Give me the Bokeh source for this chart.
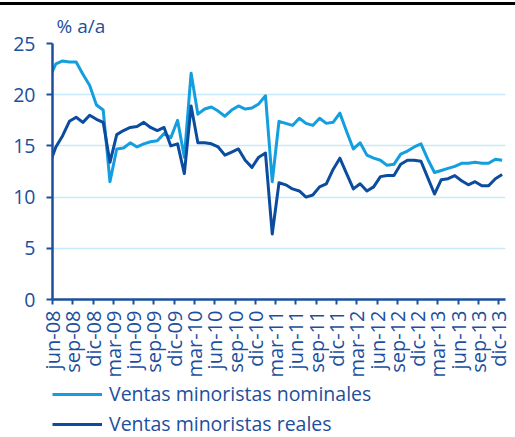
from math import pi
from bokeh.plotting import figure
from bokeh.layouts import column
from bokeh.models import (ColumnDataSource, FixedTicker, Legend, LegendItem, Title,
                          Range1d, Div)
from bokeh.embed import file_html
from bokeh.resources import INLINE

# Monthly data, may-08 .. dic-13 (first point lies just left of the axis)
months = ["may-08"] + [f"{m}-{y:02d}" for y in range(8, 14)
                        for m in ["ene", "feb", "mar", "abr", "may", "jun", "jul", "ago", "sep", "oct", "nov", "dic"]
                        if not (y == 8 and m in ["ene", "feb", "mar", "abr", "may"])]

nominales = [21.6,
             23.0, 23.3, 23.2, 23.2, 22.0, 20.9, 19.0, 18.5,
             11.5, 14.7, 14.8, 15.3, 14.9, 15.2, 15.4, 15.5, 16.2,
             15.8, 17.5, 13.9, 22.1,
             18.1, 18.6, 18.8, 18.4, 17.9, 18.5, 18.9, 18.6, 18.7, 19.1, 19.9,
             11.5, 17.4, 17.2, 17.0, 17.7, 17.2, 17.0, 17.7, 17.2, 17.3, 18.2,
             16.4, 14.7, 15.3, 14.1, 13.8, 13.6, 13.1, 13.2,
             14.2, 14.5, 14.9, 15.2, 13.7, 12.4, 12.6, 12.8,
             13.0, 13.3, 13.3, 13.4, 13.3, 13.3, 13.7, 13.6]

reales = [13.1,
          14.9, 16.0, 17.4, 17.8, 17.3, 18.0, 17.6, 17.3,
          13.4, 16.1, 16.5, 16.8, 16.9, 17.3, 16.8, 16.5, 16.8,
          15.0, 15.2, 12.3, 18.9,
          15.3, 15.3, 15.2, 14.9, 14.1, 14.4, 14.7, 13.6, 12.9, 13.9, 14.3,
          6.4, 11.4, 11.2, 10.8, 10.6, 10.0, 10.2, 11.0, 11.3, 12.7, 13.8,
          12.3, 10.8, 11.3, 10.6, 11.0, 12.0, 12.1, 12.1,
          13.2, 13.6, 13.6, 13.5, 11.9, 10.3, 11.7, 11.8,
          12.1, 11.6, 11.2, 11.5, 11.1, 11.1, 11.8, 12.2]

tick_labels = ["jun-08", "sep-08", "dic-08", "mar-09", "jun-09", "sep-09", "dic-09",
               "mar-10", "jun-10", "sep-10", "dic-10", "mar-11", "jun-11", "sep-11",
               "dic-11", "mar-12", "jun-12", "sep-12", "dic-12", "mar-13", "jun-13",
               "sep-13", "dic-13"]
y_ticks = [0, 5, 10, 15, 20, 25]
series_names = ["Ventas minoristas nominales", "Ventas minoristas reales"]

DARK = "#0b4c9f"
LIGHT = "#139fdf"
TXT = "#1c4f9d"
GRID = "#c8e9f8"
FONT = "Open Sans"

# month position: jun-08 tick at 0, points centred in their month
xs = [i - 0.5 for i in range(len(months))]
src = ColumnDataSource(dict(x=xs, nom=nominales, real=reales, month=months))

p = figure(width=515, height=375, output_backend="svg", toolbar_location=None,
           x_range=Range1d(0, 67), y_range=Range1d(0, 25),
           min_border_left=52, min_border_right=10, min_border_top=36, min_border_bottom=80,
           margin=0)
p.outline_line_color = None

r_nom = p.line("x", "nom", source=src, line_color=LIGHT, line_width=3, line_join="round")
r_real = p.line("x", "real", source=src, line_color=DARK, line_width=3, line_join="round")

p.xgrid.grid_line_color = None
p.ygrid.grid_line_color = GRID
p.ygrid.grid_line_width = 1.5
p.yaxis.ticker = FixedTicker(ticks=y_ticks)
tick_pos = [3 * i for i in range(len(tick_labels))]
p.xaxis.ticker = FixedTicker(ticks=tick_pos)
p.xaxis.major_label_overrides = {tp: lab for tp, lab in zip(tick_pos, tick_labels)}
p.xaxis.major_label_orientation = pi / 2
for ax in (p.xaxis, p.yaxis):
    ax.axis_line_color = TXT
    ax.axis_line_width = 2.5
    ax.major_tick_line_color = TXT
    ax.major_tick_line_width = 2
    ax.major_tick_in = 0
    ax.minor_tick_line_color = None
    ax.major_label_text_color = TXT
    ax.major_label_text_font = FONT
p.yaxis.major_tick_out = 6
p.yaxis.major_label_standoff = 11
p.yaxis.major_label_text_font_size = "19.5px"
p.xaxis.major_tick_out = 5
p.xaxis.major_label_standoff = 6
p.xaxis.major_label_text_font_size = "20px"

p.add_layout(Title(text="% a/a", align="left", offset=4, text_font=FONT,
                   text_font_size="19px", text_font_style="normal", text_color=TXT,
                   standoff=10), "above")

# legend in its own strip below the chart (proxy renderers lie outside its ranges)
p2 = figure(width=515, height=57, output_backend="svg", toolbar_location=None,
            x_axis_location=None, y_axis_location=None, margin=0,
            min_border_left=50, min_border_right=0, min_border_top=0, min_border_bottom=0,
            x_range=Range1d(0, 67), y_range=Range1d(100, 101))
p2.outline_line_color = None
p2.grid.grid_line_color = None
l_nom = p2.line("x", "nom", source=src, line_color=LIGHT, line_width=3)
l_real = p2.line("x", "real", source=src, line_color=DARK, line_width=3)
legend = Legend(items=[LegendItem(label=series_names[0], renderers=[l_nom]),
                       LegendItem(label=series_names[1], renderers=[l_real])],
                location="top_left", orientation="vertical",
                glyph_width=50, glyph_height=20, label_height=20, spacing=3,
                label_standoff=7, padding=0, margin=0,
                label_text_font=FONT, label_text_font_size="19.5px",
                label_text_color=TXT, border_line_color=None, background_fill_alpha=0)
p2.add_layout(legend)

top_rule = Div(text="", width=515, height=3, margin=(2, 0, 0, 0),
               styles={"background-color": "black"})

layout = column(top_rule, p, p2, spacing=0)
open("out.html", "w").write(file_html(layout, INLINE))
